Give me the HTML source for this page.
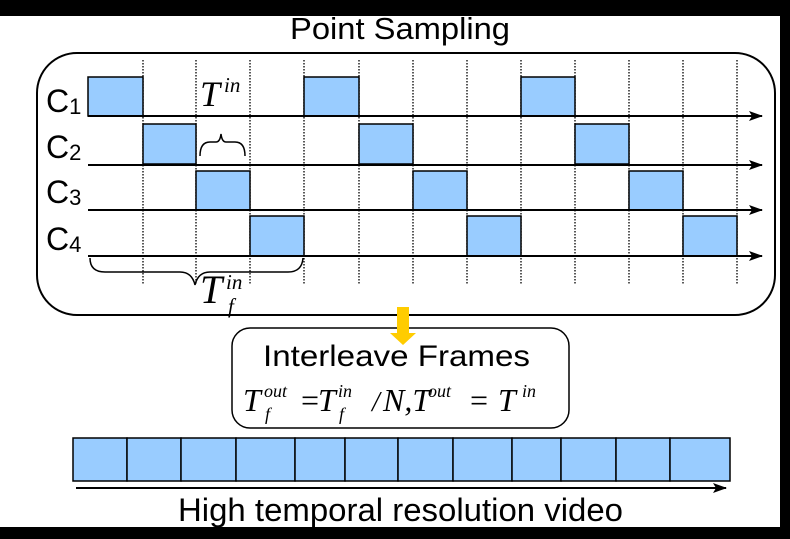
<!DOCTYPE html>
<html><head><meta charset="utf-8"><style>
html,body{margin:0;padding:0;background:#fff;}
svg{display:block;}
.s{font-family:"Liberation Sans",sans-serif;}
.m,.m text,.m tspan{font-family:"Liberation Serif",serif;font-style:italic;}
</style></head><body>
<svg width="790" height="539" viewBox="0 0 790 539" xmlns="http://www.w3.org/2000/svg">
<defs>
<marker id="ah" markerWidth="14" markerHeight="10" refX="13" refY="5" orient="auto" markerUnits="userSpaceOnUse">
<path d="M0,0 L14,5 L0,10 L3,5 Z" fill="#000"/></marker>
</defs>
<rect width="790" height="539" fill="#fff"/>
<text class="s" x="290" y="39" font-size="31" textLength="220" lengthAdjust="spacingAndGlyphs">Point Sampling</text>
<rect x="37" y="53" width="738" height="262" rx="40" fill="none" stroke="#000" stroke-width="2"/>
<g stroke="#000" stroke-width="1.3" stroke-dasharray="1.5,1.5">
<line x1="143" y1="60" x2="143" y2="285"/><line x1="196" y1="60" x2="196" y2="285"/>
<line x1="250" y1="60" x2="250" y2="285"/><line x1="304" y1="60" x2="304" y2="285"/>
<line x1="359" y1="60" x2="359" y2="285"/><line x1="413" y1="60" x2="413" y2="285"/>
<line x1="467" y1="60" x2="467" y2="285"/><line x1="521" y1="60" x2="521" y2="285"/>
<line x1="575" y1="60" x2="575" y2="285"/><line x1="629" y1="60" x2="629" y2="285"/>
<line x1="683" y1="60" x2="683" y2="285"/><line x1="737" y1="60" x2="737" y2="285"/>
</g>
<g fill="#99ccff" stroke="#000" stroke-width="1.5">
<rect x="88" y="77" width="55" height="39"/><rect x="304" y="77" width="55" height="39"/><rect x="521" y="77" width="54" height="39"/>
<rect x="143" y="124" width="53" height="40"/><rect x="359" y="124" width="54" height="40"/><rect x="575" y="124" width="54" height="40"/>
<rect x="196" y="171" width="54" height="39"/><rect x="413" y="171" width="54" height="39"/><rect x="629" y="171" width="54" height="39"/>
<rect x="250" y="216" width="54" height="40"/><rect x="467" y="216" width="54" height="40"/><rect x="683" y="216" width="54" height="40"/>
</g>
<g stroke="#000" stroke-width="2" marker-end="url(#ah)">
<line x1="88" y1="116" x2="762" y2="116"/>
<line x1="88" y1="165" x2="762" y2="165"/>
<line x1="88" y1="210" x2="762" y2="210"/>
<line x1="88" y1="256" x2="762" y2="256"/>
</g>
<g class="s" font-size="32">
<text x="46" y="112">C<tspan font-size="22" dy="2">1</tspan></text>
<text x="46" y="158">C<tspan font-size="22" dy="2">2</tspan></text>
<text x="46" y="203">C<tspan font-size="22" dy="2">3</tspan></text>
<text x="46" y="250">C<tspan font-size="22" dy="2">4</tspan></text>
</g>
<g class="m">
<text x="200" y="106" font-size="36">T</text>
<text x="224" y="92" font-size="21">in</text>
</g>
<path d="M200,156 Q200,142 210,142 L216,142 Q220,142 221,134 Q222,142 226,142 L235,142 Q245,142 245,156" fill="none" stroke="#000" stroke-width="1.5"/>
<path d="M90,258 Q90,272 105,272 L180,272 Q192,272 195,285 Q198,272 210,272 L288,272 Q302,272 303,258" fill="none" stroke="#000" stroke-width="1.5"/>
<g class="m">
<text x="200" y="303" font-size="40">T</text>
<text x="226" y="289" font-size="21">in</text>
<text x="228" y="313" font-size="21">f</text>
</g>
<rect x="232" y="328" width="337" height="100" rx="18" fill="#fff" stroke="#000" stroke-width="1.5"/>
<path d="M397,307 L409,307 L409,333 L416,333 L403,345 L390,333 L397,333 Z" fill="#ffcc00"/>
<text class="s" x="263" y="366" font-size="30" textLength="267" lengthAdjust="spacingAndGlyphs">Interleave Frames</text>
<g class="m" font-size="32">
<text x="243" y="411">T</text>
<text x="264" y="397" font-size="18">out</text>
<text x="265" y="420" font-size="18">f</text>
<text x="301" y="411" style="font-style:normal">=</text>
<text x="318" y="411">T</text>
<text x="338" y="397" font-size="18">in</text>
<text x="339" y="420" font-size="18">f</text>
<text x="372" y="411" font-size="28">/</text>
<text x="383" y="411">N,T</text>
<text x="428" y="397" font-size="18">out</text>
<text x="470" y="411" style="font-style:normal">=</text>
<text x="498" y="411">T</text>
<text x="522" y="397" font-size="18">in</text>
</g>
<g fill="#99ccff" stroke="#000" stroke-width="1.5">
<rect x="73" y="438" width="54" height="43"/><rect x="127" y="438" width="54" height="43"/>
<rect x="181" y="438" width="55" height="43"/><rect x="236" y="438" width="59" height="43"/>
<rect x="295" y="438" width="50" height="43"/><rect x="345" y="438" width="53" height="43"/>
<rect x="398" y="438" width="55" height="43"/><rect x="453" y="438" width="59" height="43"/>
<rect x="512" y="438" width="49" height="43"/><rect x="561" y="438" width="55" height="43"/>
<rect x="616" y="438" width="54" height="43"/><rect x="670" y="438" width="60" height="43"/>
</g>
<line x1="76" y1="488" x2="726" y2="488" stroke="#000" stroke-width="2" marker-end="url(#ah)"/>
<text class="s" x="178" y="521" font-size="32" textLength="445" lengthAdjust="spacingAndGlyphs">High temporal resolution video</text>
<rect x="0" y="0" width="790" height="16" fill="#000"/>
<rect x="780" y="0" width="10" height="539" fill="#000"/>
<rect x="0" y="527" width="790" height="12" fill="#000"/>
</svg>
</body></html>
